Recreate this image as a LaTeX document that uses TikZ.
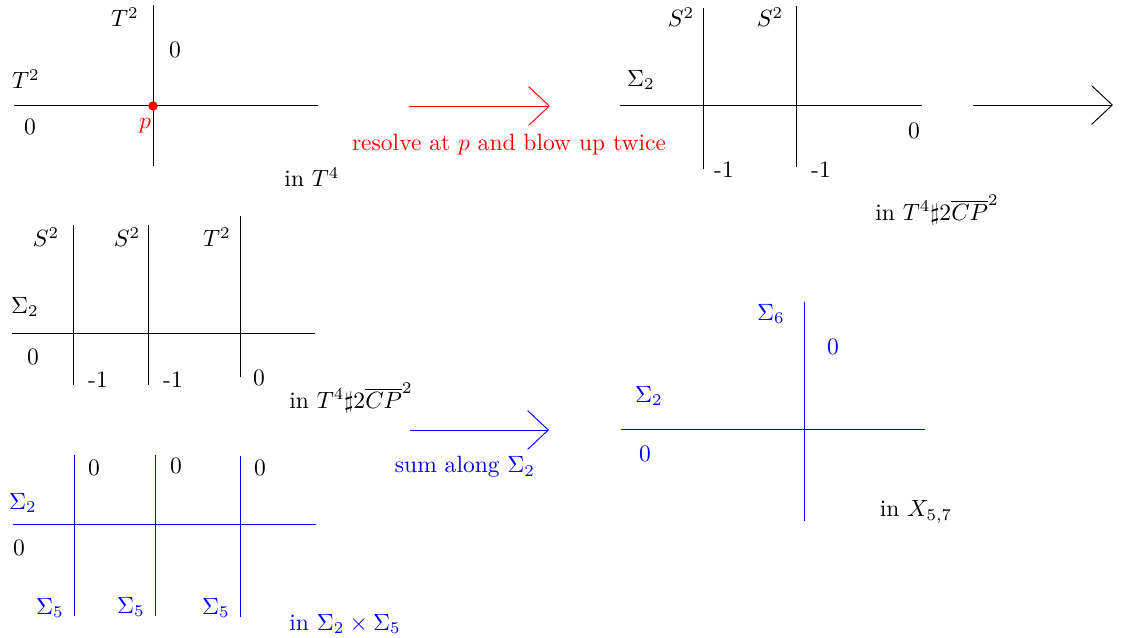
\documentclass[tikz,border=0pt]{standalone}
\usetikzlibrary{arrows.meta}
\begin{document}
\begin{tikzpicture}[x=0.425pt,y=-0.425pt,
  curve/.style={line width=0.4pt},
  bigarrow/.style={line width=0.4pt,-{Straight Barb[length=8.8pt,width=16.5pt,line width=0.4pt]}},
  lbl/.style={inner sep=0pt},
  redc/.style={color=red},
  bluec/.style={color=blue}]
\useasboundingbox (0,0) rectangle (1126,638);

% ---------- Panel 1 ----------
\coordinate (h1a) at (14,105); \coordinate (h1b) at (318,105);
\coordinate (v1a) at (153,5);  \coordinate (v1b) at (153,166);
\draw[curve] (h1a) -- (h1b);
\draw[curve] (v1a) -- (v1b);
\node[circle,fill=red,inner sep=0pt,minimum size=4pt] (pdot) at (153,106) {};
\node[lbl] (p1t2a) at (125,17) {$T^2$};
\node[lbl] (p1z1) at (175,50) {0};
\node[lbl] (p1t2b) at (26,79) {$T^2$};
\node[lbl] (p1z2) at (30,127) {0};
\node[lbl,redc] (p1p) at (145,126) {$p$};
\node[lbl] (p1in) at (312,177) {in $T^4$};

% red arrow
\coordinate (ar1a) at (409,106); \coordinate (ar1b) at (550,106);
\draw[bigarrow,red] (ar1a) -- (ar1b);
\node[lbl,redc] (ar1l) at (509,145) {resolve at $p$ and blow up twice};

% ---------- Panel 2 ----------
\coordinate (h2a) at (620,105); \coordinate (h2b) at (922,105);
\coordinate (v2a) at (703,8);   \coordinate (v2b) at (703,169);
\coordinate (v3a) at (796,6);   \coordinate (v3b) at (796,167);
\draw[curve] (h2a) -- (h2b);
\draw[curve] (v2a) -- (v2b);
\draw[curve] (v3a) -- (v3b);
\node[lbl] (p2s1) at (681,17) {$S^2$};
\node[lbl] (p2s2) at (770,17) {$S^2$};
\node[lbl] (p2sig) at (641,80) {$\Sigma_2$};
\node[lbl] (p2z) at (914,131) {0};
\node[lbl] (p2m1) at (724,170) {-1};
\node[lbl] (p2m2) at (821,170) {-1};
\node[lbl] (p2in) at (937,210) {in $T^4\sharp 2\overline{CP}^2$};

% black arrow
\coordinate (ar2a) at (973,105); \coordinate (ar2b) at (1113,105);
\draw[bigarrow] (ar2a) -- (ar2b);

% ---------- Panel 3 ----------
\coordinate (h3a) at (12,333); \coordinate (h3b) at (315,333);
\coordinate (v4a) at (73,225);  \coordinate (v4b) at (73,385);
\coordinate (v5a) at (148,225); \coordinate (v5b) at (148,385);
\coordinate (v6a) at (240,216); \coordinate (v6b) at (240,377);
\draw[curve] (h3a) -- (h3b);
\draw[curve] (v4a) -- (v4b);
\draw[curve] (v5a) -- (v5b);
\draw[curve] (v6a) -- (v6b);
\node[lbl] (p3s1) at (46,237) {$S^2$};
\node[lbl] (p3s2) at (127,237) {$S^2$};
\node[lbl] (p3t) at (217,237) {$T^2$};
\node[lbl] (p3sig) at (25,307) {$\Sigma_2$};
\node[lbl] (p3z1) at (33,357) {0};
\node[lbl] (p3m1) at (98,380) {-1};
\node[lbl] (p3m2) at (173,380) {-1};
\node[lbl] (p3z2) at (259,378) {0};
\node[lbl] (p3in) at (351,398) {in $T^4\sharp 2\overline{CP}^2$};

% ---------- Panel 4 ----------
\coordinate (h4a) at (13,524); \coordinate (h4b) at (316,524);
\coordinate (v7a) at (74,455);  \coordinate (v7b) at (74,616);
\coordinate (v8a) at (155,455); \coordinate (v8b) at (155,616);
\coordinate (v9a) at (240,456); \coordinate (v9b) at (240,617);
\draw[curve,blue] (h4a) -- (h4b);
\draw[curve,blue] (v7a) -- (v7b);
\draw[curve,blue] (v8a) -- (v8b);
\draw[curve,blue] (v9a) -- (v9b);
\node[lbl] (p4z1) at (94,468) {0};
\node[lbl] (p4z2) at (176,466) {0};
\node[lbl] (p4z3) at (260,468) {0};
\node[lbl,bluec] (p4sig) at (23,503) {$\Sigma_2$};
\node[lbl] (p4z4) at (19,548) {0};
\node[lbl,bluec] (p4s1) at (50,608) {$\Sigma_5$};
\node[lbl,bluec] (p4s2) at (131,607) {$\Sigma_5$};
\node[lbl,bluec] (p4s3) at (216,608) {$\Sigma_5$};
\node[lbl,bluec] (p4in) at (345,624) {in $\Sigma_2\times\Sigma_5$};

% blue arrow
\coordinate (ar3a) at (410,430); \coordinate (ar3b) at (549,430);
\draw[bigarrow,blue] (ar3a) -- (ar3b);
\node[lbl,bluec] (ar3l) at (465,467) {sum along $\Sigma_2$};

% ---------- Panel 5 ----------
\coordinate (h5a) at (621,429); \coordinate (h5b) at (925,429);
\coordinate (v10a) at (804,302); \coordinate (v10b) at (804,521);
\draw[curve,blue] (h5a) -- (h5b);
\draw[curve,blue] (v10a) -- (v10b);
\node[lbl,bluec] (p5s6) at (771,314) {$\Sigma_6$};
\node[lbl,bluec] (p5z1) at (833,347) {0};
\node[lbl,bluec] (p5s2) at (649,396) {$\Sigma_2$};
\node[lbl,bluec] (p5z2) at (645,454) {0};
\node[lbl] (p5in) at (916,512) {in $X_{5,7}$};
\end{tikzpicture}
\end{document}
